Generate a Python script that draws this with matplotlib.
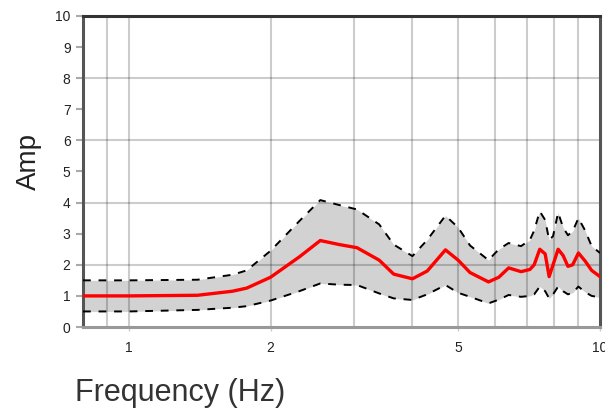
import matplotlib
matplotlib.use("Agg")
import matplotlib.pyplot as plt
from matplotlib.ticker import FixedLocator, NullFormatter, FixedFormatter

plt.rcParams['font.family'] = ['Liberation Sans', 'DejaVu Sans']

freq = [0.8, 1.0, 1.4, 1.66, 1.78, 2.0, 2.3, 2.55, 2.8, 3.05, 3.4, 3.65, 4.0, 4.3,
        4.7, 5.0, 5.3, 5.8, 6.1, 6.4, 6.8, 7.1, 7.25, 7.45, 7.65, 7.8, 7.95, 8.15,
        8.35, 8.55, 8.75, 9.0, 9.3, 9.6, 10.0]
amp_mean = [1.0, 1.0, 1.02, 1.15, 1.25, 1.6, 2.25, 2.78, 2.65, 2.55, 2.15, 1.7, 1.55, 1.8,
            2.48, 2.15, 1.75, 1.45, 1.6, 1.9, 1.78, 1.85, 2.0, 2.5, 2.35, 1.62, 2.0, 2.5,
            2.3, 1.95, 2.0, 2.38, 2.12, 1.82, 1.62]
amp_upper = [1.5, 1.5, 1.52, 1.68, 1.82, 2.45, 3.4, 4.08, 3.92, 3.78, 3.3, 2.65, 2.28, 2.8,
             3.58, 3.2, 2.62, 2.15, 2.5, 2.7, 2.6, 2.8, 3.1, 3.72, 3.44, 2.8, 2.92, 3.68,
             3.2, 2.95, 3.08, 3.5, 3.1, 2.6, 2.38]
amp_lower = [0.5, 0.5, 0.55, 0.62, 0.67, 0.85, 1.15, 1.4, 1.36, 1.35, 1.08, 0.92, 0.87, 1.05,
             1.35, 1.1, 0.97, 0.76, 0.88, 1.03, 0.97, 1.0, 1.05, 1.3, 1.15, 0.92, 1.05, 1.3,
             1.15, 1.05, 1.1, 1.3, 1.12, 1.0, 0.95]

xticks = [1, 2, 5, 10]
xticklabels = ["1", "2", "5", "10"]
xgrid = [0.9, 1, 2, 3, 4, 5, 6, 7, 8, 9]
ygrid = [2, 4, 6, 8]
yticks = list(range(0, 11))

W, H = 605, 411
fig = plt.figure(figsize=(W / 100, H / 100), dpi=100)
ax = fig.add_axes([83 / W, (H - 327) / H, 517 / W, 311 / H])

ax.fill_between(freq, amp_lower, amp_upper, color='#d2d2d2', lw=0, zorder=1)
ax.plot(freq, amp_upper, color='black', lw=1.4, ls=(0, (4, 4)), zorder=3)
ax.plot(freq, amp_lower, color='black', lw=1.4, ls=(0, (4, 4)), zorder=3)
ax.plot(freq, amp_mean, color='#ff0000', lw=2.4, zorder=4)

ax.set_xscale('log')
ax.set_xlim(0.8, 10)
ax.set_ylim(0, 10)

ax.xaxis.set_major_locator(FixedLocator(xticks))
ax.xaxis.set_major_formatter(FixedFormatter(xticklabels))
ax.xaxis.set_minor_locator(FixedLocator([]))
ax.xaxis.set_minor_formatter(NullFormatter())
ax.yaxis.set_major_locator(FixedLocator(yticks))

for g in xgrid:
    ax.axvline(g, color='black', alpha=0.2, lw=1.5, zorder=2)
for g in ygrid:
    ax.axhline(g, color='black', alpha=0.2, lw=1.5, zorder=2)

ax.tick_params(axis='x', length=3, width=1, color='#cccccc', pad=7, labelsize=10,
               labelcolor='#222222')
ax.tick_params(axis='y', length=5, width=1.5, color='#aaaaaa', pad=4, labelsize=10,
               labelcolor='#222222')

for side, col in [('top', '#333333'), ('left', '#555555'), ('right', '#555555'), ('bottom', '#999999')]:
    ax.spines[side].set_color(col)
    ax.spines[side].set_linewidth(2.2)

fig.text(75 / W, 1 - 393 / H, "Frequency (Hz)", fontsize=22, color='#333333',
         ha='left', va='center')
fig.text(29 / W, 1 - 161 / H, "Amp", fontsize=20, color='#222222',
         ha='center', va='center', rotation=90)

fig.savefig("out.png", dpi=100)
